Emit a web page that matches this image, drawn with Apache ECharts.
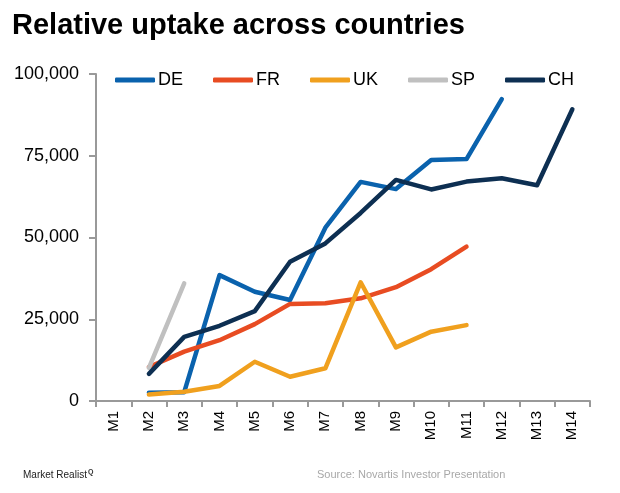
<!DOCTYPE html>
<html><head><meta charset="utf-8">
<script src="https://cdn.jsdelivr.net/npm/echarts@6/dist/echarts.min.js"></script>
<style>html,body{margin:0;padding:0;background:#fff}#c{width:620px;height:493px}</style>
</head><body><div id="c"></div>
<script>
const categories = ['M1','M2','M3','M4','M5','M6','M7','M8','M9','M10','M11','M12','M13','M14'];
const seriesNames = ['DE','FR','UK','SP','CH'];
const DE = [null, 2500, 2700, 38500, 33400, 30900, 53000, 67000, 64800, 73700, 74000, 92300, null, null];
const FR = [null, 10400, 15100, 18600, 23500, 29700, 29900, 31400, 34800, 40300, 47200, null, null, null];
const UK = [null, 2000, 2800, 4600, 12000, 7400, 10000, 36300, 16400, 21200, 23200, null, null, null];
const SP = [null, 10100, 36000, null, null, null, null, null, null, null, null, null, null, null];
const CH = [null, 8300, 19600, 23000, 27500, 42600, 48200, 57500, 67600, 64700, 67100, 68100, 66000, 89200];
const yTicks = [0, 25000, 50000, 75000, 100000];
const colors = ['#0a62ad', '#e84c22', '#f0a01e', '#c0c0c0', '#0d2f52'];

const chart = echarts.init(document.getElementById('c'), null, {renderer: 'canvas'});
const dataList = [DE, FR, UK, SP, CH];
chart.setOption({
  animation: false,
  backgroundColor: '#fff',
  title: [
    {text: 'Relative uptake across countries', left: 7, top: 6,
     textStyle: {fontFamily: 'Liberation Sans, Arial', fontWeight: 'bold', fontSize: 29, color: '#000'}},
    {text: 'Market Realist{q|Q}', left: 18, top: 464,
     textStyle: {fontFamily: 'Liberation Sans Narrow, Liberation Sans', fontWeight: 'normal', fontSize: 10, color: '#222',
       rich: {q: {fontSize: 7, fontWeight: 'bold', color: '#333', verticalAlign: 'top', padding: [0, 0, 6, 1]}}}},
    {text: 'Source: Novartis Investor Presentation', left: 312, top: 464,
     textStyle: {fontFamily: 'Liberation Sans, Arial', fontWeight: 'normal', fontSize: 11, color: '#a8a8a8'}}
  ],
  legend: {
    data: seriesNames, top: 66, left: 110, icon: 'roundRect', itemWidth: 40, itemHeight: 5, itemGap: 30,
    textStyle: {fontFamily: 'Liberation Sans, Arial', fontSize: 18, color: '#000', padding: [0, 0, 0, -2]}
  },
  grid: {left: 96, right: 30, top: 74, bottom: 92, containLabel: false},
  xAxis: {
    type: 'category', data: categories, boundaryGap: true,
    axisLine: {lineStyle: {color: '#999', width: 2}},
    axisTick: {show: true, length: 6, lineStyle: {color: '#999', width: 2}},
    axisLabel: {rotate: 90, fontFamily: 'Liberation Sans, Arial', fontSize: 15, color: '#000', margin: 10}
  },
  yAxis: {
    type: 'value', min: 0, max: 100000, interval: 25000,
    axisLine: {show: true, lineStyle: {color: '#999', width: 2}},
    axisTick: {show: true, length: 7, lineStyle: {color: '#999', width: 2}},
    splitLine: {show: false},
    axisLabel: {fontFamily: 'Liberation Sans, Arial', fontSize: 18, color: '#000', margin: 17,
      formatter: v => yTicks.includes(v) ? v.toLocaleString('en-US') : ''}
  },
  series: seriesNames.map((n, i) => ({
    name: n, type: 'line', data: dataList[i], symbol: 'none', connectNulls: false,
    color: colors[i],
    lineStyle: {width: 4.5, color: colors[i], cap: 'round', join: 'round'},
    z: i === 4 ? 3 : 2
  }))
});
</script></body></html>
